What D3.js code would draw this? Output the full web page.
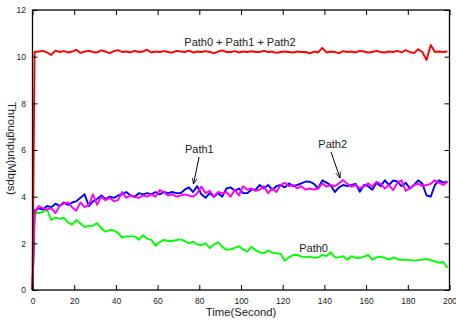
<!DOCTYPE html>
<html><head><meta charset="utf-8">
<script src="https://cdn.jsdelivr.net/npm/d3@7"></script>
<style>
html,body{margin:0;padding:0;background:#fff;}
svg{display:block;font-family:"Liberation Sans",Arial,Helvetica,sans-serif;}
</style></head>
<body>
<svg id="chart" width="456" height="322"></svg>
<script>
const time = [0,1,3,5,7,9,11,13,15,17,19,21,23,25,27,29,31,33,35,37,39,41,43,45,47,49,51,53,55,57,59,61,63,65,67,69,71,73,75,77,79,81,83,85,87,89,91,93,95,97,99,101,103,105,107,109,111,113,115,117,119,121,123,125,127,129,131,133,135,137,139,141,143,145,147,149,151,153,155,157,159,161,163,165,167,169,171,173,175,177,179,181,183,185,187,189,191,193,195,197,199];

const path0 = [0,
 3.35,3.3,3.35,3.45,3.0,3.1,3.05,3.1,2.9,2.8,
 3.0,2.85,2.7,2.75,2.75,2.87,2.65,2.5,2.57,2.55,
 2.45,2.25,2.3,2.3,2.3,2.15,2.35,2.2,2.15,1.9,
 2.05,2.15,2.1,2.1,2.14,2.17,2.1,2.0,2.07,1.95,
 1.93,2.0,1.8,1.95,2.05,1.85,1.72,1.74,1.8,1.88,
 1.74,1.64,1.85,1.7,1.62,1.57,1.7,1.6,1.57,1.55,
 1.25,1.4,1.5,1.5,1.43,1.42,1.43,1.38,1.4,1.5,
 1.45,1.62,1.4,1.4,1.45,1.3,1.45,1.38,1.38,1.43,
 1.5,1.3,1.4,1.43,1.38,1.3,1.4,1.32,1.29,1.3,
 1.28,1.26,1.28,1.3,1.33,1.28,1.22,1.17,1.2,0.95];

const path1 = [0,
 3.4,3.5,3.45,3.6,3.55,3.7,3.6,3.75,3.65,3.75,
 3.8,3.95,4.1,3.6,3.8,3.9,4.05,3.9,4.0,3.95,
 4.05,4.1,4.2,4.05,4.0,4.15,4.1,4.15,4.1,4.2,
 4.1,4.2,4.15,4.2,4.15,4.15,4.3,4.4,4.2,4.45,
 4.1,3.95,4.15,4.0,4.15,4.0,4.35,4.4,4.25,4.35,
 4.15,4.15,4.3,4.3,4.5,4.35,4.5,4.3,4.45,4.5,
 4.4,4.57,4.45,4.5,4.57,4.65,4.64,4.55,4.35,4.7,
 4.6,4.5,4.2,4.4,4.5,4.45,4.5,4.55,4.21,4.5,
 4.45,4.3,4.6,4.45,4.7,4.5,4.7,4.65,4.45,4.6,
 4.35,4.5,4.7,4.55,4.05,4.0,4.5,4.7,4.6,4.65];

const path2 = [0,
 3.3,3.6,3.5,3.45,3.5,3.3,3.6,3.7,3.75,3.55,
 3.4,3.75,3.55,3.65,4.1,3.65,4.0,3.85,3.95,3.8,
 3.85,4.2,3.95,4.05,3.98,3.95,4.05,4.0,4.1,4.0,
 4.28,4.2,4.05,4.1,4.0,4.05,4.1,4.05,4.0,4.15,
 4.43,4.15,4.25,4.0,4.2,4.14,4.2,4.0,4.3,4.05,
 4.45,4.3,4.35,4.25,4.3,4.45,4.15,4.35,4.2,4.5,
 4.6,4.45,4.5,4.35,4.45,4.3,4.35,4.3,4.35,4.57,
 4.43,4.5,4.45,4.57,4.71,4.55,4.43,4.5,4.36,4.45,
 4.57,4.43,4.64,4.55,4.35,4.5,4.28,4.6,4.7,4.25,
 4.36,4.5,4.55,4.45,4.5,4.55,4.7,4.6,4.5,4.65];

const total = [0,
 10.2,10.22,10.25,10.18,10.08,10.26,10.2,10.24,10.18,10.22,
 10.3,10.16,10.22,10.25,10.2,10.18,10.27,10.22,10.15,10.24,
 10.28,10.2,10.22,10.18,10.25,10.2,10.22,10.3,10.18,10.22,
 10.2,10.24,10.2,10.17,10.25,10.22,10.2,10.26,10.18,10.22,
 10.2,10.24,10.2,10.15,10.22,10.27,10.2,10.2,10.24,10.18,
 10.22,10.2,10.23,10.2,10.2,10.25,10.2,10.22,10.16,10.2,
 10.22,10.2,10.18,10.22,10.2,10.2,10.14,10.22,10.18,10.38,
 10.18,10.22,10.2,10.15,10.24,10.2,10.22,10.18,10.25,10.22,
 10.18,10.2,10.25,10.2,10.18,10.22,10.2,10.25,10.18,10.28,
 10.2,10.15,10.32,10.2,9.86,10.5,10.2,10.22,10.2,10.22];

const xTicks = [0,20,40,60,80,100,120,140,160,180,200];
const yTicks = [0,2,4,6,8,10,12];

const series = [
  {name:"Path0", values:path0, color:"#00ff00"},
  {name:"Path1", values:path1, color:"#0000ff"},
  {name:"Path2", values:path2, color:"#ff00ff"},
  {name:"Path0 + Path1 + Path2", values:total, color:"#ff0000"}
];

const svg = d3.select("#chart");
const L=32.5, R=449.5, T=10, B=290;
const x = d3.scaleLinear().domain([0,200]).range([L,R]);
const y = d3.scaleLinear().domain([0,12]).range([B,T]);

const line = d3.line().x((d,i)=>x(time[i])).y(d=>y(d));

// lines
svg.append("g").selectAll("path").data(series).join("path")
  .attr("d", d=>line(d.values))
  .attr("fill","none").attr("stroke",d=>d.color)
  .attr("stroke-width",1.9).attr("stroke-linejoin","round");

// axes
const tickLen = 5;
const gx = svg.append("g").attr("transform",`translate(0,${B})`)
  .call(d3.axisBottom(x).tickValues(xTicks).tickFormat(d3.format("d")).tickSizeInner(-tickLen).tickSizeOuter(0).tickPadding(7.5));
const gxt = svg.append("g").attr("transform",`translate(0,${T})`)
  .call(d3.axisTop(x).tickValues(xTicks).tickFormat("").tickSizeInner(-tickLen).tickSizeOuter(0));
const gy = svg.append("g").attr("transform",`translate(${L},0)`)
  .call(d3.axisLeft(y).tickValues(yTicks).tickFormat(d3.format("d")).tickSizeInner(-tickLen).tickSizeOuter(0).tickPadding(6.5));
const gyr = svg.append("g").attr("transform",`translate(${R},0)`)
  .call(d3.axisRight(y).tickValues(yTicks).tickFormat("").tickSizeInner(-tickLen).tickSizeOuter(0));
[gx,gxt,gy,gyr].forEach(g=>{
  g.select(".domain").remove();
  g.selectAll(".tick line").attr("stroke","#000").attr("stroke-width",1);
  g.selectAll("text").attr("font-size",8.5).attr("fill","#222").attr("font-family","'Liberation Sans',Arial,sans-serif");
});

// frame
svg.append("rect").attr("x",L).attr("y",T).attr("width",R-L).attr("height",B-T)
  .attr("fill","none").attr("stroke","#000").attr("stroke-width",1.3);

// axis titles
svg.append("text").attr("x",(L+R)/2).attr("y",316).attr("text-anchor","middle")
  .attr("font-size",11.3).attr("fill","#222").text("Time(Second)");
svg.append("text").attr("transform","translate(12,148.5) rotate(90)")
  .attr("text-anchor","middle").attr("dominant-baseline","central")
  .attr("font-size",11.3).attr("fill","#222").text("Throughput(Mbps)");

// annotations
const ann = svg.append("g").attr("font-size",11).attr("fill","#222").attr("text-anchor","middle");
ann.append("text").attr("x",x(99.5)).attr("y",y(10.46)).text("Path0 + Path1 + Path2");
ann.append("text").attr("x",x(80)).attr("y",y(5.87)).text("Path1");
ann.append("text").attr("x",x(144)).attr("y",y(6.09)).text("Path2");
ann.append("text").attr("x",x(134.8)).attr("y",y(1.63)).text("Path0");

svg.append("defs").append("marker").attr("id","ah").attr("viewBox","0 0 10 10")
  .attr("refX",10).attr("refY",5).attr("markerWidth",6).attr("markerHeight",6)
  .attr("markerUnits","userSpaceOnUse").attr("orient","auto")
  .append("path").attr("d","M0,1 L10,5 L0,9").attr("fill","none").attr("stroke","#000").attr("stroke-width",1.3);

const arrows = [
  {x1:79.9,y1:5.7,x2:77.2,y2:4.54},
  {x1:143.2,y1:5.91,x2:147.5,y2:4.8}
];
svg.append("g").selectAll("line").data(arrows).join("line")
  .attr("x1",d=>x(d.x1)).attr("y1",d=>y(d.y1)).attr("x2",d=>x(d.x2)).attr("y2",d=>y(d.y2))
  .attr("stroke","#000").attr("stroke-width",1).attr("marker-end","url(#ah)");
</script>
</body></html>
